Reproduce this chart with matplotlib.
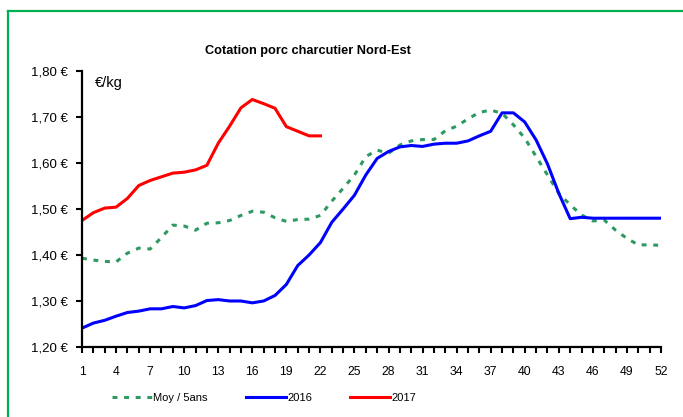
import matplotlib
matplotlib.use("Agg")
import matplotlib.pyplot as plt
from matplotlib.lines import Line2D

plt.rcParams['font.family'] = ['Liberation Sans', 'DejaVu Sans']

weeks = list(range(1, 53))

moy_5ans = [1.393, 1.389, 1.386, 1.385, 1.404, 1.415, 1.413, 1.438, 1.465, 1.463,
            1.454, 1.469, 1.470, 1.475, 1.486, 1.495, 1.493, 1.481, 1.473, 1.477,
            1.478, 1.486, 1.517, 1.545, 1.574, 1.614, 1.628, 1.621, 1.639, 1.648,
            1.651, 1.651, 1.670, 1.680, 1.696, 1.710, 1.715, 1.708, 1.683, 1.654,
            1.614, 1.574, 1.534, 1.509, 1.487, 1.474, 1.476, 1.454, 1.436, 1.422,
            1.422, 1.421]

y2016 = [1.241, 1.252, 1.258, 1.267, 1.275, 1.278, 1.283, 1.283, 1.288, 1.285,
         1.290, 1.301, 1.303, 1.300, 1.300, 1.296, 1.300, 1.312, 1.336, 1.377,
         1.400, 1.427, 1.471, 1.500, 1.530, 1.574, 1.610, 1.625, 1.635, 1.638,
         1.636, 1.641, 1.643, 1.643, 1.648, 1.659, 1.669, 1.709, 1.709, 1.689,
         1.650, 1.598, 1.534, 1.479, 1.482, 1.480, 1.480, 1.480, 1.480, 1.480,
         1.480, 1.480]

y2017 = [1.475, 1.492, 1.502, 1.504, 1.523, 1.551, 1.562, 1.570, 1.578, 1.580,
         1.585, 1.595, 1.643, 1.680, 1.720, 1.738, 1.729, 1.719, 1.679, 1.669,
         1.659, 1.659]

yticks = [1.20, 1.30, 1.40, 1.50, 1.60, 1.70, 1.80]
xlabels = list(range(1, 53, 3))

fig = plt.figure(figsize=(6.83, 4.17), dpi=100)
ax = fig.add_axes([82 / 683, 1 - 347 / 417, 579 / 683, 276 / 417])

green = '#2e9960'
ax.plot(weeks, moy_5ans, color=green, lw=2.2, linestyle=(0, (1.6, 2.2)), label='Moy / 5ans')
ax.plot(weeks, y2016, color='#0000ff', lw=2.2, label='2016')
ax.plot(weeks[:len(y2017)], y2017, color='#ff0000', lw=2.2, label='2017')

ax.set_xlim(1, 52)
ax.set_ylim(1.20, 1.80)
ax.set_yticks(yticks)
ax.set_yticklabels([f"{v:.2f} €".replace('.', ',') for v in yticks], fontsize=9.5)
ax.set_xticks(weeks)
ax.set_xticklabels([str(w) if w in xlabels else '' for w in weeks], fontsize=8.8)
ax.tick_params(axis='y', direction='out', length=4.5, width=1.5, pad=6)
ax.tick_params(axis='x', direction='out', length=4.5, width=1.5, pad=9)

for s in ['top', 'right']:
    ax.spines[s].set_visible(False)
for s in ['left', 'bottom']:
    ax.spines[s].set_linewidth(1.6)

ax.text(0.022, 0.9565, '€/kg', transform=ax.transAxes, fontsize=10.5, va='center')
fig.text(308 / 683, 1 - 51 / 417, 'Cotation porc charcutier Nord-Est',
         ha='center', va='center', fontsize=9.2, fontweight='bold')

fig.legend(loc='center', bbox_to_anchor=(264 / 683, 1 - 398 / 417), ncol=3,
           frameon=False, fontsize=8, handlelength=3.6, handletextpad=0.15,
           columnspacing=3.4)

# green frame (left and top edges)
fig.add_artist(Line2D([7.5 / 683, 7.5 / 683], [0, 1 - 10.5 / 417], transform=fig.transFigure,
                      color='#00b050', lw=1.6))
fig.add_artist(Line2D([7.5 / 683, 1], [1 - 10.5 / 417, 1 - 10.5 / 417], transform=fig.transFigure,
                      color='#00b050', lw=1.6))

fig.savefig('out.png', dpi=100)
